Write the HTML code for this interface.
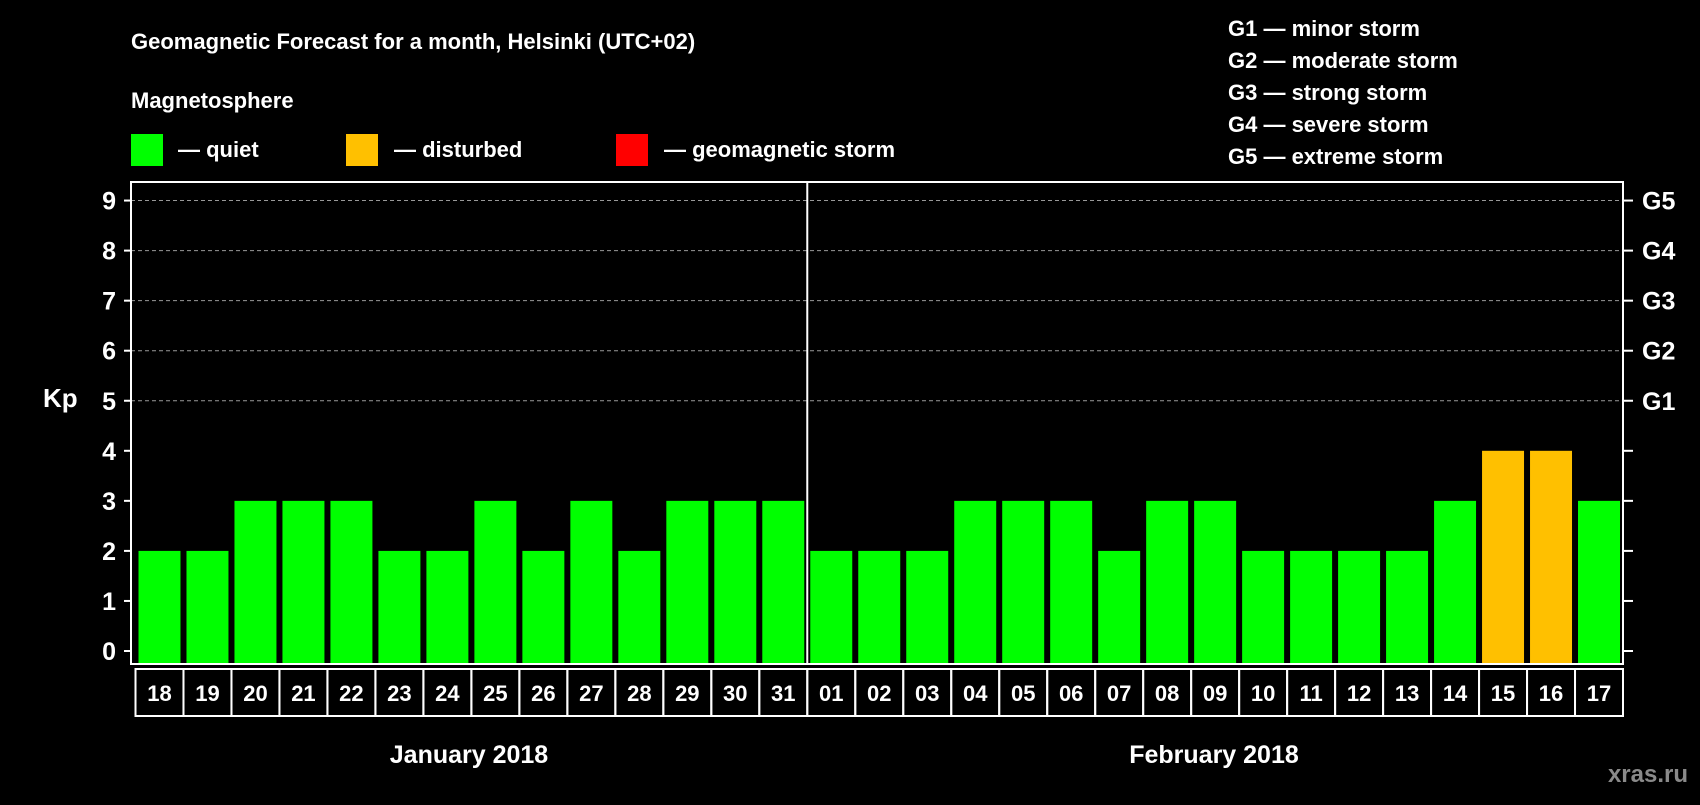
<!DOCTYPE html>
<html><head><meta charset="utf-8"><style>
body{margin:0;background:#000;width:1700px;height:800px;overflow:hidden}
svg text{font-family:"Liberation Sans",Arial,sans-serif;font-weight:bold;fill:#fff}
</style></head><body>
<svg id="chart" width="1700" height="800" xmlns="http://www.w3.org/2000/svg">
<rect width="1700" height="800" fill="#000"/>
<text x="131" y="49" font-size="22">Geomagnetic Forecast for a month, Helsinki (UTC+02)</text>
<text x="131" y="108" font-size="22">Magnetosphere</text>
<g><rect x="131" y="134" width="32" height="32" fill="#00ff00"/><text x="178" y="157" font-size="22">— quiet</text></g>
<g><rect x="346" y="134" width="32" height="32" fill="#ffc000"/><text x="394" y="157" font-size="22">— disturbed</text></g>
<g><rect x="616" y="134" width="32" height="32" fill="#ff0000"/><text x="664" y="157" font-size="22">— geomagnetic storm</text></g>
<g font-size="22">
<text x="1228" y="36">G1 — minor storm</text>
<text x="1228" y="68">G2 — moderate storm</text>
<text x="1228" y="100">G3 — strong storm</text>
<text x="1228" y="132">G4 — severe storm</text>
<text x="1228" y="164">G5 — extreme storm</text>
</g>
<g id="grid"></g><g id="bars"></g><g id="axes"></g>
<text x="43" y="407" font-size="26">Kp</text>
<text x="469" y="763" font-size="25" text-anchor="middle">January 2018</text>
<text x="1214" y="763" font-size="25" text-anchor="middle">February 2018</text>
<text x="1688" y="782" font-size="24" text-anchor="end" style="fill:#8a8a8a">xras.ru</text>
</svg>
<script>
const days=["18","19","20","21","22","23","24","25","26","27","28","29","30","31","01","02","03","04","05","06","07","08","09","10","11","12","13","14","15","16","17"];
const kpValues=[2,2,3,3,3,2,2,3,2,3,2,3,3,3,2,2,2,3,3,3,2,3,3,2,2,2,2,3,4,4,3];
const yTicks=[0,1,2,3,4,5,6,7,8,9];
const gLabels=["G1","G2","G3","G4","G5"];
const NS="http://www.w3.org/2000/svg";
const X0=135.5,X1=1623,slot=(X1-X0)/days.length;
const y=v=>651-v*50.05;
const x=i=>X0+i*slot;
function mk(tag,attrs,parent){const e=document.createElementNS(NS,tag);for(const k in attrs)e.setAttribute(k,attrs[k]);parent.appendChild(e);return e;}
const grid=document.getElementById('grid'),bars=document.getElementById('bars'),axes=document.getElementById('axes');
yTicks.forEach(v=>{
 if(v>=5){const l=mk('line',{x1:131,x2:1623,y1:y(v),y2:y(v),stroke:'#999','stroke-dasharray':'4,3','stroke-width':1},grid);
 
 }
 const t=mk('line',{x1:124,x2:131,y1:y(v),y2:y(v),stroke:'#fff','stroke-width':2},axes);
 
 
 const t2=mk('line',{x1:1623,x2:1633,y1:y(v),y2:y(v),stroke:'#fff','stroke-width':2},axes);
 
 
 const lb=mk('text',{x:116,y:y(v)+9,'font-size':25,'text-anchor':'end'},axes);lb.textContent=v;
 
 
});
gLabels.forEach((g,i)=>{const t=mk('text',{x:1642,y:y(5+i)+9,'font-size':25},axes);t.textContent=g;
 
 });
kpValues.forEach((v,i)=>{
 const c=v>=5?'#ff0000':(v>=4?'#ffc000':'#00ff00');
 const r=mk('rect',{x:x(i)+3,y:y(v),width:slot-6,height:y(0)+12-y(v),fill:c},bars);
 
 
 const b=mk('rect',{x:x(i),y:669,width:slot,height:47,fill:'none',stroke:'#fff','stroke-width':2},axes);
 
 
 const t=mk('text',{x:x(i)+slot/2,y:701,'font-size':22,'text-anchor':'middle'},axes);t.textContent=days[i];
 
 
});
const fr=mk('rect',{x:131,y:182,width:1492,height:482,fill:'none',stroke:'#fff','stroke-width':2},axes);


const dv=mk('line',{x1:x(14),x2:x(14),y1:182,y2:664,stroke:'#fff','stroke-width':2},axes);


</script>
</body></html>
